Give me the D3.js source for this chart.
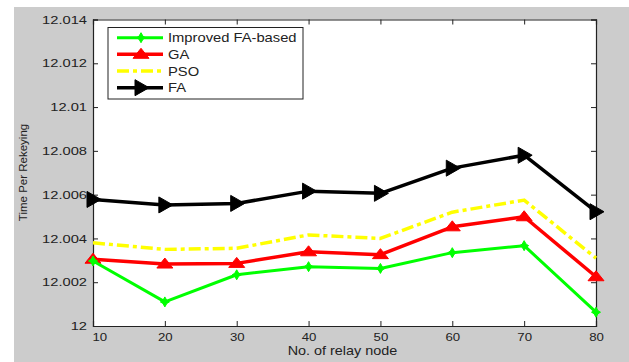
<!DOCTYPE html>
<html>
<head>
<meta charset="utf-8">
<script src="https://cdn.jsdelivr.net/npm/d3@7"></script>
<style>
  body { margin: 0; background: #fff; }
  svg { display: block; font-family: "Liberation Sans", Arial, sans-serif; }
</style>
</head>
<body>
<svg id="chart" width="629" height="362"></svg>
<script>
// data
const relayNodes = [10, 20, 30, 40, 50, 60, 70, 80];
const improvedFA = [12.00297, 12.0011, 12.00234, 12.00271, 12.00263, 12.00335, 12.00367, 12.00063];
const gaVals     = [12.00305, 12.00283, 12.00286, 12.00339, 12.00326, 12.00453, 12.00499, 12.00225];
const psoVals    = [12.0038, 12.0035, 12.00355, 12.00416, 12.004, 12.0052, 12.00575, 12.0031];
const faVals     = [12.00578, 12.00553, 12.0056, 12.00616, 12.00606, 12.00721, 12.0078, 12.00522];
const yTicks = [12, 12.002, 12.004, 12.006, 12.008, 12.01, 12.012, 12.014];
const seriesNames = ["Improved FA-based", "GA", "PSO", "FA"];

const svg = d3.select("#chart");
const margin = {left: 93, top: 19.5, right: 596, bottom: 326};

// the original figure text looks stretched sideways, so squash it back in
function stretch(sel, s) {
  sel.each(function() {
    const t = d3.select(this);
    const x0 = +t.attr("x") || 0;
    t.attr("x", x0 / s).attr("transform", `scale(${s},1)`);
  });
}

// gray figure background
svg.append("rect")
  .attr("x", 14).attr("y", 7)
  .attr("width", 615).attr("height", 355)
  .attr("fill", "#cccccc");

const x = d3.scaleLinear().domain([10, 80]).range([margin.left, margin.right]);
const y = d3.scaleLinear().domain([12, 12.014]).range([margin.bottom, margin.top]);

// white plot area
svg.append("rect")
  .attr("x", margin.left).attr("y", margin.top)
  .attr("width", margin.right - margin.left)
  .attr("height", margin.bottom - margin.top)
  .attr("fill", "#fff");

// axes, ticks pointing inward like matlab
const tickLen = 5;
const xAxisB = svg.append("g").attr("transform", `translate(0,${margin.bottom})`)
  .call(d3.axisBottom(x).tickValues(relayNodes).tickSize(-tickLen).tickPadding(7).tickFormat(d3.format("d")));
const xAxisT = svg.append("g").attr("transform", `translate(0,${margin.top})`)
  .call(d3.axisTop(x).tickValues(relayNodes).tickSize(-tickLen).tickFormat(""));
const yAxisL = svg.append("g").attr("transform", `translate(${margin.left},0)`)
  .call(d3.axisLeft(y).tickValues(yTicks).tickSize(-tickLen).tickPadding(6)
    .tickFormat(d => d3.format("")(+d.toFixed(3))));
const yAxisR = svg.append("g").attr("transform", `translate(${margin.right},0)`)
  .call(d3.axisRight(y).tickValues(yTicks).tickSize(-tickLen).tickFormat(""));

[xAxisB, xAxisT, yAxisL, yAxisR].forEach(a => {
  a.select(".domain").attr("stroke", "#222").attr("stroke-width", 1.2);
  a.selectAll(".tick line").attr("stroke", "#222");
  a.selectAll("text").attr("font-size", 11.5).attr("fill", "#222")
    .attr("font-family", "'Liberation Sans', Arial, sans-serif");
});
// first x label sits just right of its tick in the original
xAxisB.selectAll(".tick text").filter(d => d === 10).attr("text-anchor", "start").attr("x", -1);
stretch(xAxisB.selectAll(".tick text"), 1.15);
stretch(yAxisL.selectAll(".tick text"), 1.28);

// axis titles
const xTitle = svg.append("text")
  .attr("x", 342.5).attr("y", 355)
  .attr("text-anchor", "middle").attr("font-size", 12).attr("fill", "#222")
  .text("No. of relay node");
stretch(xTitle, 1.2);
svg.append("text")
  .attr("transform", "translate(26.5,172.5) rotate(-90)")
  .attr("text-anchor", "middle").attr("font-size", 11.5).attr("fill", "#222")
  .text("Time Per Rekeying");

const line = d3.line().x((d, i) => x(relayNodes[i])).y(d => y(d));

const series = [
  {name: seriesNames[0], vals: improvedFA, color: "#00ff00", width: 3, dash: null, marker: "star"},
  {name: seriesNames[1], vals: gaVals, color: "#ff0000", width: 3.5, dash: null, marker: "tri"},
  {name: seriesNames[2], vals: psoVals, color: "#ffff00", width: 3.5, dash: "12,4,4,4", marker: null},
  {name: seriesNames[3], vals: faVals, color: "#000000", width: 3.5, dash: null, marker: "right"}
];

function markerPath(kind) {
  if (kind === "tri") return "M0,-6L8,4L-8,4Z";
  if (kind === "right") return "M-6,-8L8,0L-6,8Z";
  if (kind === "star") return "M0,-5L2,-1.5L4.5,0L2,1.5L0,5L-2,1.5L-4.5,0L-2,-1.5Z";
  return null;
}

const plotG = svg.append("g");
// draw back to front: FA, PSO, GA, Improved
series.slice().reverse().forEach(s => {
  plotG.append("path")
    .datum(s.vals)
    .attr("d", line)
    .attr("fill", "none")
    .attr("stroke", s.color)
    .attr("stroke-width", s.width)
    .attr("stroke-dasharray", s.dash)
    .attr("stroke-linejoin", "round");
  if (s.marker) {
    plotG.selectAll(null)
      .data(s.vals)
      .enter().append("path")
      .attr("transform", (d, i) => `translate(${x(relayNodes[i])},${y(d)})`)
      .attr("d", markerPath(s.marker))
      .attr("fill", s.color)
      .attr("stroke", s.color)
      .attr("stroke-width", 1);
  }
});

// legend
const legend = svg.append("g");
legend.append("rect")
  .attr("x", 108).attr("y", 27.5)
  .attr("width", 195).attr("height", 71.5)
  .attr("fill", "#fff").attr("stroke", "#222").attr("stroke-width", 1);

const legendY = [37.7, 54.3, 71, 87.7];
series.forEach((s, i) => {
  const g = legend.append("g").attr("transform", `translate(0,${legendY[i]})`);
  g.append("line")
    .attr("x1", 117).attr("x2", 163)
    .attr("stroke", s.color).attr("stroke-width", s.width)
    .attr("stroke-dasharray", s.dash);
  if (s.marker) {
    g.append("path")
      .attr("transform", "translate(141,0)")
      .attr("d", markerPath(s.marker))
      .attr("fill", s.color).attr("stroke", s.color);
  }
  const t = g.append("text")
    .attr("x", 168).attr("y", 4.5)
    .attr("font-size", 12.5).attr("fill", "#222")
    .text(s.name);
  stretch(t, 1.18);
});
</script>
</body>
</html>
